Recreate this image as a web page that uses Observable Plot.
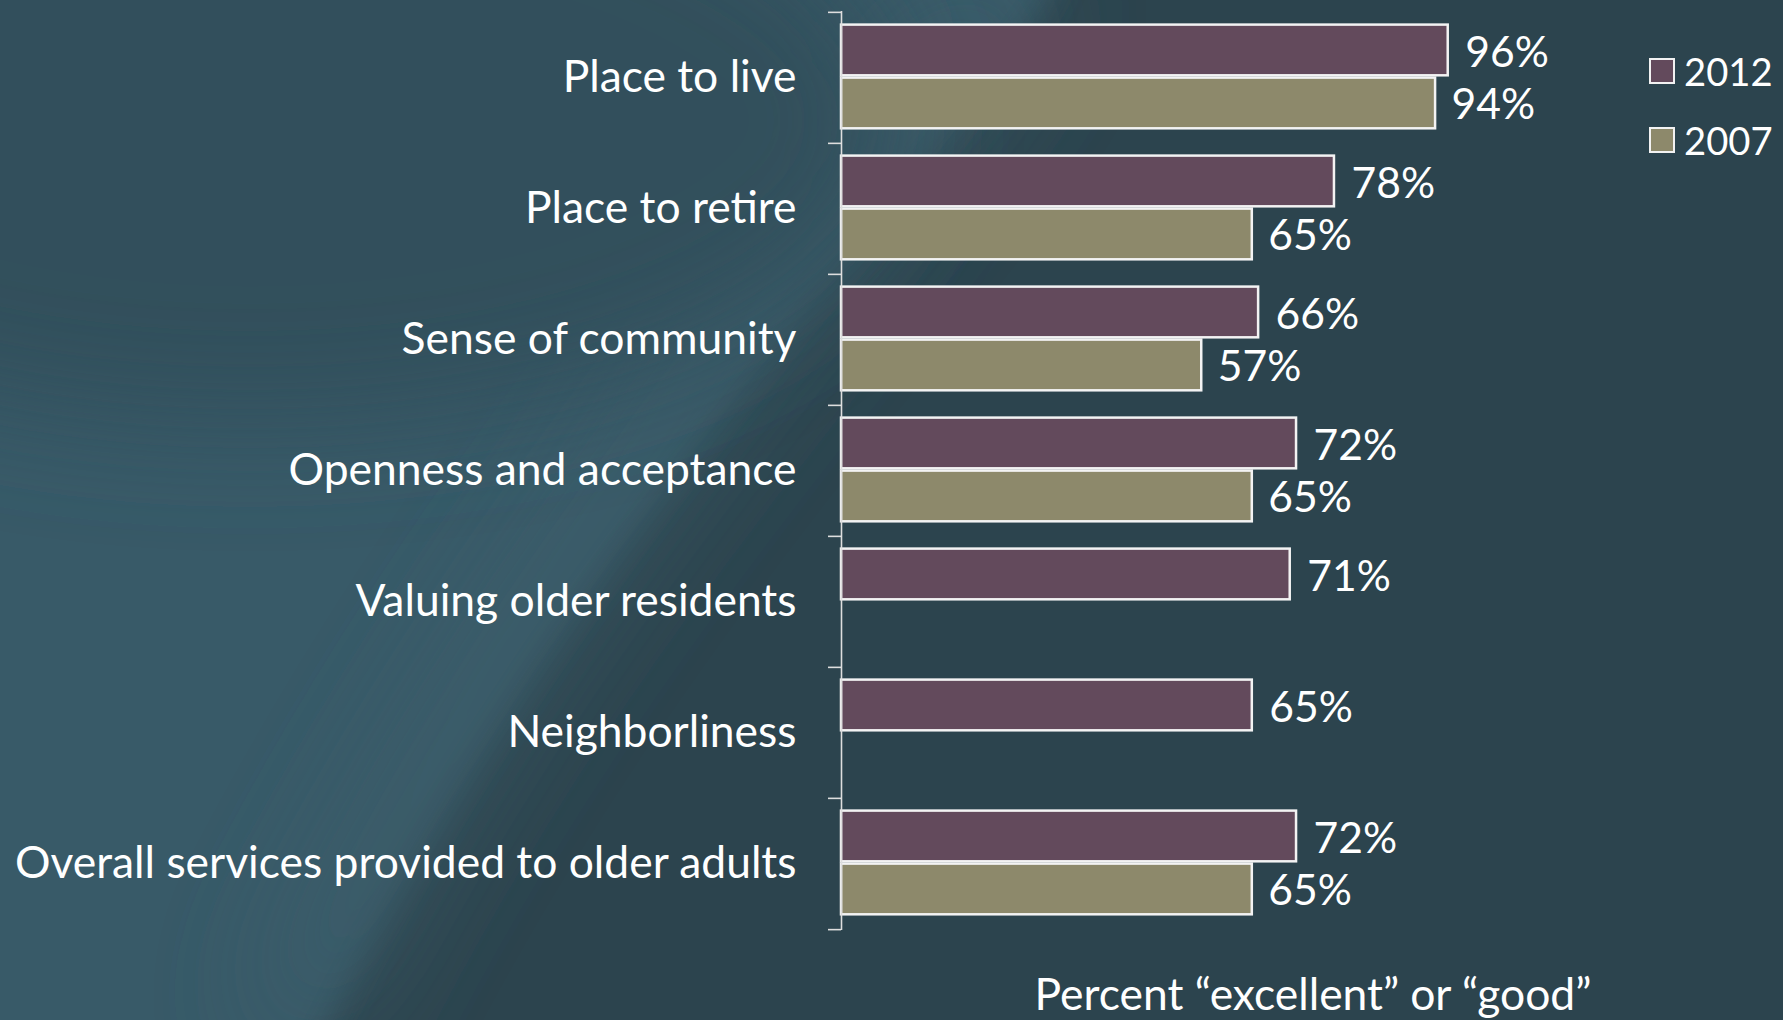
<!DOCTYPE html>
<html>
<head>
<meta charset="utf-8">
<script src="https://cdn.jsdelivr.net/npm/d3@7"></script>
<script src="https://cdn.jsdelivr.net/npm/@observablehq/plot@0.6"></script>
<style>
  html, body { margin: 0; padding: 0; width: 1783px; height: 1020px; overflow: hidden; background: #2c444e; }
  body { position: relative; font-family: Lato, "Open Sans", "DejaVu Sans", sans-serif; color: #ffffff; }
  #bg { position: absolute; left: 0; top: 0; }
  #chart { position: absolute; left: 0; top: 0; }
  #legend { position: absolute; left: 1649px; top: 58px; }
  .item { position: absolute; left: 0; display: flex; align-items: center; white-space: nowrap; }
  .sw { width: 22px; height: 22px; border: 2px solid #f2f2f2; box-sizing: content-box; margin-right: 9px; }
  #xlabel { position: absolute; white-space: nowrap; transform: translateX(-50%); line-height: 1; }
</style>
</head>
<body>
<svg id="bg" width="1783" height="1020">
  <defs>
    <filter id="blur1" x="-20%" y="-20%" width="140%" height="140%"><feGaussianBlur stdDeviation="16"/></filter>
    <filter id="blur2" x="-30%" y="-30%" width="160%" height="160%"><feGaussianBlur stdDeviation="60"/></filter>
  </defs>
  <rect width="1783" height="1020" fill="#2c444e"/>
  <path d="M-60,-60 L1070,-60 L1046,0 C 860,260 560,560 330,1020 L300,1080 L-60,1080 Z" fill="#395a67" filter="url(#blur1)"/>
  <path d="M1046,0 C 860,260 560,560 330,1020 L260,1020 C 480,560 770,260 950,0 Z" fill="#3c5d6a" filter="url(#blur2)"/>
  <ellipse cx="250" cy="120" rx="650" ry="300" fill="#31505c" filter="url(#blur2)"/>
</svg>
<div id="chart"></div>
<div id="legend"></div>
<div id="xlabel"></div>
<script>
// ---- data ----
const categories = [
  "Place to live",
  "Place to retire",
  "Sense of community",
  "Openness and acceptance",
  "Valuing older residents",
  "Neighborliness",
  "Overall services provided to older adults"
];
const years = ["2012", "2007"];
const values2012 = [96, 78, 66, 72, 71, 65, 72];
const values2007 = [94, 65, 57, 65, null, null, 65];
const seriesColors = ["#634a5c", "#8d896b"];
const xAxisLabel = "Percent \u201Cexcellent\u201D or \u201Cgood\u201D";

// ---- rows ----
const rows2012 = categories.map((c, i) => ({category: c, year: "2012", value: values2012[i]})).filter(d => d.value != null);
const rows2007 = categories.map((c, i) => ({category: c, year: "2007", value: values2007[i]})).filter(d => d.value != null);

// ---- font fit ----
const fontFamily = 'Lato, "Open Sans", "DejaVu Sans", sans-serif';
const ctx = document.createElement("canvas").getContext("2d");
ctx.font = `100px ${fontFamily}`;
const longW = ctx.measureText(categories[categories.length - 1]).width;
const fontSize = Math.round(100 * 782 / longW * 10) / 10;
const valueFont = fontSize * 0.96;

// ---- layout ----
const W = 1783, H = 950;
const mTop = 11, mBottom = 20, mLeft = 841, mRight = 310;
const step = (H - mTop - mBottom) / categories.length;

const plot = Plot.plot({
  width: W,
  height: H,
  marginLeft: mLeft,
  marginRight: mRight,
  marginTop: mTop,
  marginBottom: mBottom,
  style: {background: "transparent", color: "#ffffff", fontFamily, fontSize: fontSize + "px", overflow: "visible"},
  x: {domain: [0, 100], axis: null},
  y: {domain: categories, padding: 0, label: null},
  color: {domain: years, range: seriesColors},
  marks: [
    Plot.barX(rows2012, {x: "value", y: "category", fill: "year", stroke: "#f3f3f3", strokeWidth: 2.5, insetTop: 12.6, insetBottom: step - 63.6}),
    Plot.barX(rows2007, {x: "value", y: "category", fill: "year", stroke: "#f3f3f3", strokeWidth: 2.5, insetTop: 65.6, insetBottom: step - 116.6}),
    Plot.text(rows2012, {x: "value", y: "category", text: d => d.value + "%", dx: 17, dy: -24.5, textAnchor: "start", fill: "#ffffff", fontSize: valueFont}),
    Plot.text(rows2007, {x: "value", y: "category", text: d => d.value + "%", dx: 16, dy: 27, textAnchor: "start", fill: "#ffffff", fontSize: valueFont}),
    Plot.ruleX([0], {stroke: "#dedede", strokeWidth: 1.6}),
    Plot.axisY({anchor: "left", tickSize: 13, fill: "none", stroke: "#dedede", strokeWidth: 1.6, dy: -step / 2, label: null}),
    Plot.axisY([categories[categories.length - 1]], {anchor: "left", tickSize: 13, fill: "none", stroke: "#dedede", strokeWidth: 1.6, dy: step / 2, label: null}),
    Plot.axisY({anchor: "left", tickSize: 0, tickPadding: 45, fill: "#ffffff", fontSize, label: null})
  ]
});
document.getElementById("chart").appendChild(plot);

// ---- legend ----
const legend = document.getElementById("legend");
const legendFont = fontSize * 0.86;
years.forEach((y, i) => {
  const item = document.createElement("div");
  item.className = "item";
  item.style.top = (i * 69) + "px";
  item.style.height = "26px";
  item.style.fontSize = legendFont + "px";
  const sw = document.createElement("div");
  sw.className = "sw";
  sw.style.background = seriesColors[i];
  const t = document.createElement("span");
  t.textContent = y;
  item.appendChild(sw);
  item.appendChild(t);
  legend.appendChild(item);
});

// ---- x label ----
const xl = document.getElementById("xlabel");
xl.textContent = xAxisLabel;
xl.style.fontSize = fontSize + "px";
xl.style.left = "1313px";
xl.style.top = (1010 - 0.887 * fontSize) + "px";
</script>
</body>
</html>
